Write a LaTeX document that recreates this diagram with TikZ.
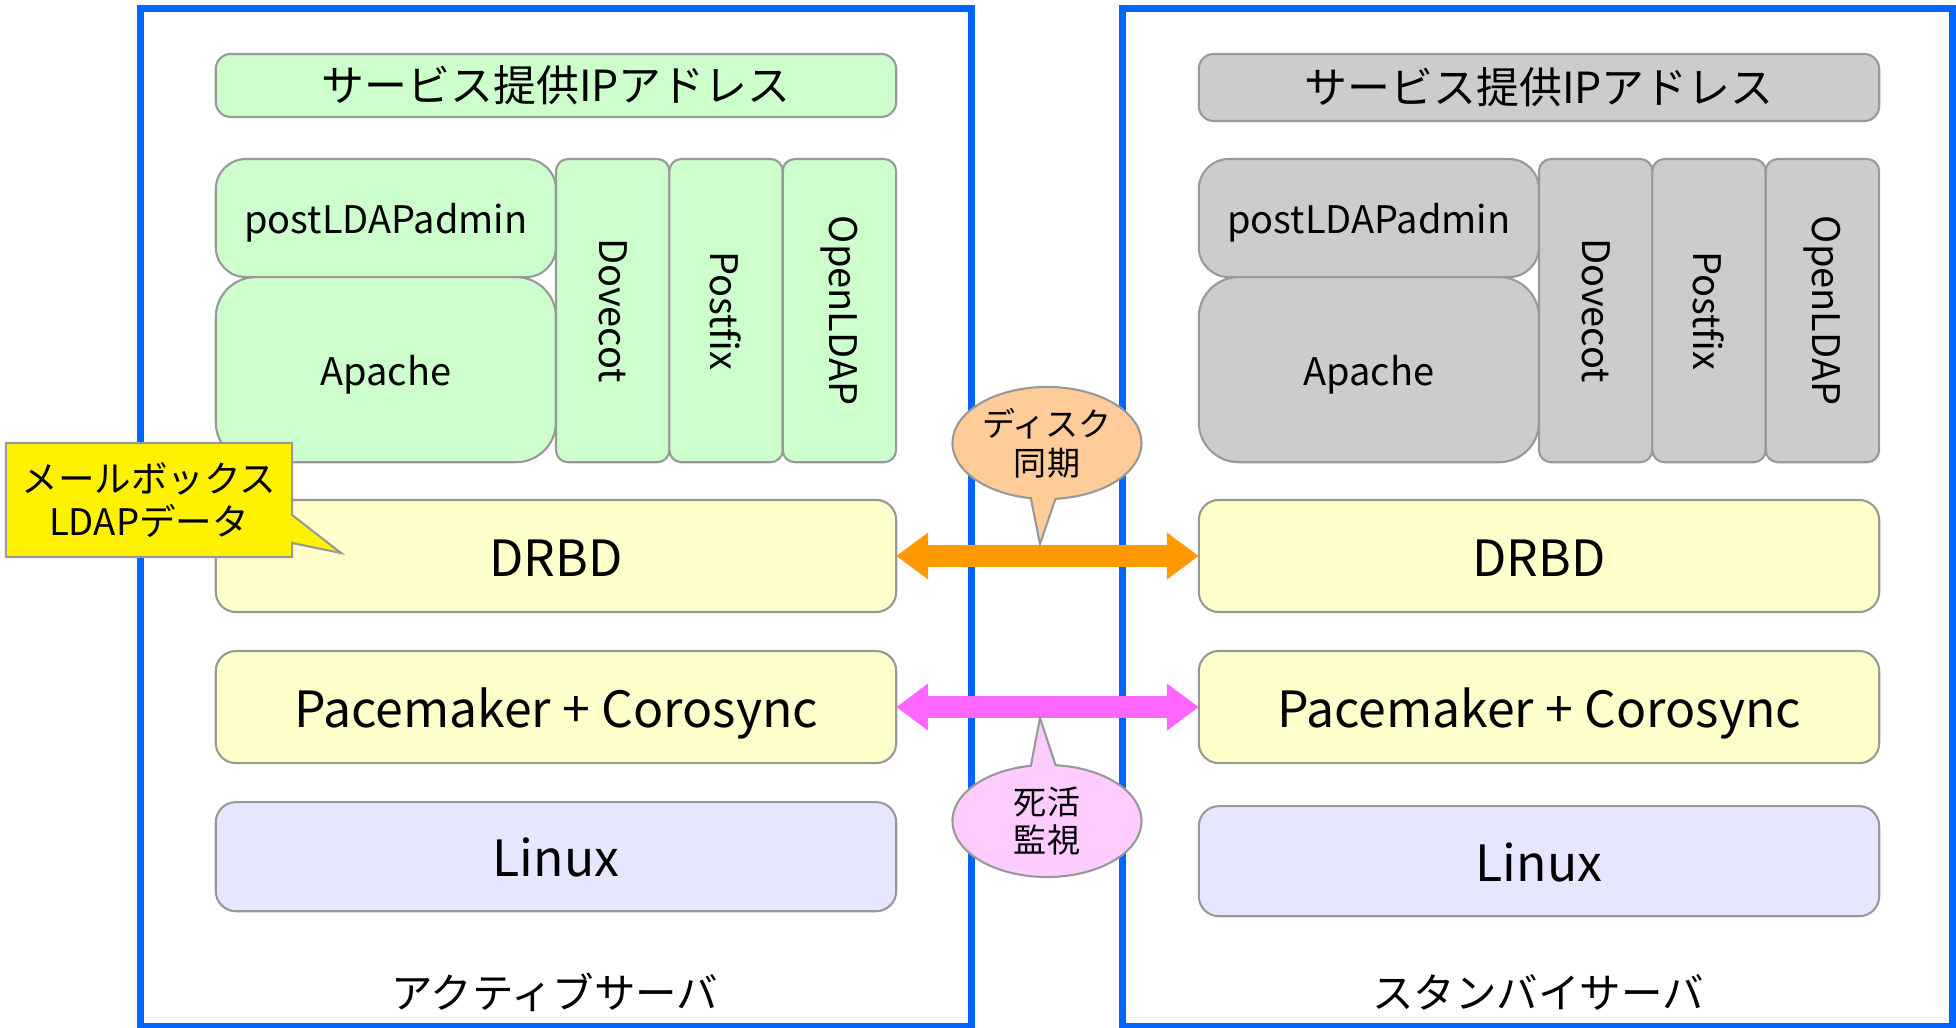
\documentclass[tikz,border=0pt]{standalone}
\usepackage{fontspec}
\setmainfont{Noto Sans CJK JP}
\usetikzlibrary{positioning,arrows.meta,shapes.callouts}

\definecolor{frameblue}{HTML}{0066FF}
\definecolor{svcgreen}{HTML}{CCFFCC}
\definecolor{svcgray}{HTML}{CCCCCC}
\definecolor{drbdyellow}{HTML}{FFFFCC}
\definecolor{oslavender}{HTML}{E6E6FF}
\definecolor{syncorange}{HTML}{FF9900}
\definecolor{syncpeach}{HTML}{FFCC99}
\definecolor{hbpink}{HTML}{FF66FF}
\definecolor{hblight}{HTML}{FFCCFF}
\definecolor{boxline}{HTML}{999999}

\begin{document}
\begin{tikzpicture}[
        x=0.01cm, y=-0.01cm,
        server/.style={
            rectangle,
            draw=frameblue,
            line width=0.07cm,
            minimum height=10.17cm,
            inner sep=0pt
        },
        box/.style={
            rectangle,
            draw=boxline,
            line width=0.6pt,
            rounded corners=0.2cm,
            inner sep=0pt,
            outer sep=0pt,
            align=center
        },
        ipbox/.style={
            box,
            rounded corners=0.15cm,
            minimum width=6.8cm,
            font=\fontsize{12.2}{14}\selectfont
        },
        layer/.style={
            box,
            minimum width=6.8cm,
            minimum height=1.12cm,
            text height=13.9pt,
            text depth=2.4pt,
            font=\fontsize{14.2}{16}\selectfont
        },
        webbox/.style={
            box,
            minimum width=3.4cm,
            text height=10.6pt,
            text depth=1.8pt,
            font=\fontsize{10.8}{12}\selectfont
        },
        colbox/.style={
            box,
            rounded corners=0.12cm,
            minimum width=1.133cm,
            minimum height=3.03cm
        },
        vtext/.style={
            rotate=-90,
            inner sep=0pt,
            font=\fontsize{10.8}{12}\selectfont
        },
        srvlabel/.style={
            font=\fontsize{11.8}{14}\selectfont
        },
        bubble/.style={
            ellipse callout,
            draw=boxline,
            line width=0.6pt,
            minimum width=1.89cm,
            minimum height=1.12cm,
            inner sep=0pt,
            align=center,
            font=\fontsize{9.4}{11}\selectfont
        },
        link/.style={
            {Triangle[length=0.32cm,width=0.45cm]}-{Triangle[length=0.32cm,width=0.45cm]},
            line width=0.22cm
        }
    ]
    \useasboundingbox (0,0) rectangle (1956,1028);

    % Server frames
    \node[server, minimum width=8.3cm] (active) at (556,517.5) {};
    \node[server, minimum width=8.29cm] (standby) at (1537.5,517.5) {};
    \node[srvlabel] (activelabel) at (555,992) {アクティブサーバ};
    \node[srvlabel] (standbylabel) at (1538,992) {スタンバイサーバ};

    % Active server stack
    \node[ipbox, fill=svcgreen, minimum height=0.63cm] (ipA) at (556,85.5) {サービス提供IPアドレス};
    \node[webbox, fill=svcgreen, rounded corners=0.3cm, minimum height=1.18cm,
        below right=0.42cm and 0cm of ipA.south west] (ldapadminA) {postLDAPadmin};
    \node[webbox, fill=svcgreen, rounded corners=0.4cm, minimum height=1.85cm,
        below=0cm of ldapadminA] (apacheA) {Apache};
    \node[colbox, fill=svcgreen, below right=0cm and 0cm of ldapadminA.north east,
        label={[vtext]center:Dovecot}] (dovecotA) {};
    \node[colbox, fill=svcgreen, right=0cm of dovecotA, label={[vtext]center:Postfix}] (postfixA) {};
    \node[colbox, fill=svcgreen, right=0cm of postfixA, label={[vtext]center:OpenLDAP}] (openldapA) {};
    \node[layer, fill=drbdyellow] (drbdA) at (556,556) {DRBD};
    \node[layer, fill=drbdyellow, below=0.39cm of drbdA] (pacemakerA) {Pacemaker + Corosync};
    \node[layer, fill=oslavender, minimum height=1.09cm, below=0.39cm of pacemakerA] (linuxA) {Linux};

    % Standby server stack
    \node[ipbox, fill=svcgray, minimum height=0.67cm] (ipB) at (1539,87.5) {サービス提供IPアドレス};
    \node[webbox, fill=svcgray, rounded corners=0.3cm, minimum height=1.18cm,
        below right=0.38cm and 0cm of ipB.south west] (ldapadminB) {postLDAPadmin};
    \node[webbox, fill=svcgray, rounded corners=0.4cm, minimum height=1.85cm,
        below=0cm of ldapadminB] (apacheB) {Apache};
    \node[colbox, fill=svcgray, below right=0cm and 0cm of ldapadminB.north east,
        label={[vtext]center:Dovecot}] (dovecotB) {};
    \node[colbox, fill=svcgray, right=0cm of dovecotB, label={[vtext]center:Postfix}] (postfixB) {};
    \node[colbox, fill=svcgray, right=0cm of postfixB, label={[vtext]center:OpenLDAP}] (openldapB) {};
    \node[layer, fill=drbdyellow] (drbdB) at (1539,556) {DRBD};
    \node[layer, fill=drbdyellow, below=0.39cm of drbdB] (pacemakerB) {Pacemaker + Corosync};
    \node[layer, fill=oslavender, minimum height=1.1cm, below=0.43cm of pacemakerB] (linuxB) {Linux};

    % Links between the servers
    \draw[link, syncorange] (drbdA) -- (drbdB);
    \draw[link, hbpink] (pacemakerA) -- (pacemakerB);

    % Callouts
    \coordinate (synctip) at (1040,544);
    \coordinate (hbtip) at (1040,718);
    \coordinate (mailtip) at (341,553);
    \node[bubble, fill=syncpeach, callout absolute pointer={(synctip)}] (syncnote) at (1047,443) {ディスク\\同期};
    \node[bubble, fill=hblight, callout absolute pointer={(hbtip)}] (hbnote) at (1047,821) {死活\\監視};
    \node[rectangle callout, draw=boxline, line width=0.6pt, fill=yellow,
        minimum width=2.86cm, minimum height=1.14cm, inner sep=0pt, align=center,
        callout absolute pointer={(mailtip)}, callout pointer width=0.28cm,
        font=\fontsize{10.4}{12.2}\selectfont] (mailnote) at (149,500) {メールボックス\\LDAPデータ};

\end{tikzpicture}
\end{document}
